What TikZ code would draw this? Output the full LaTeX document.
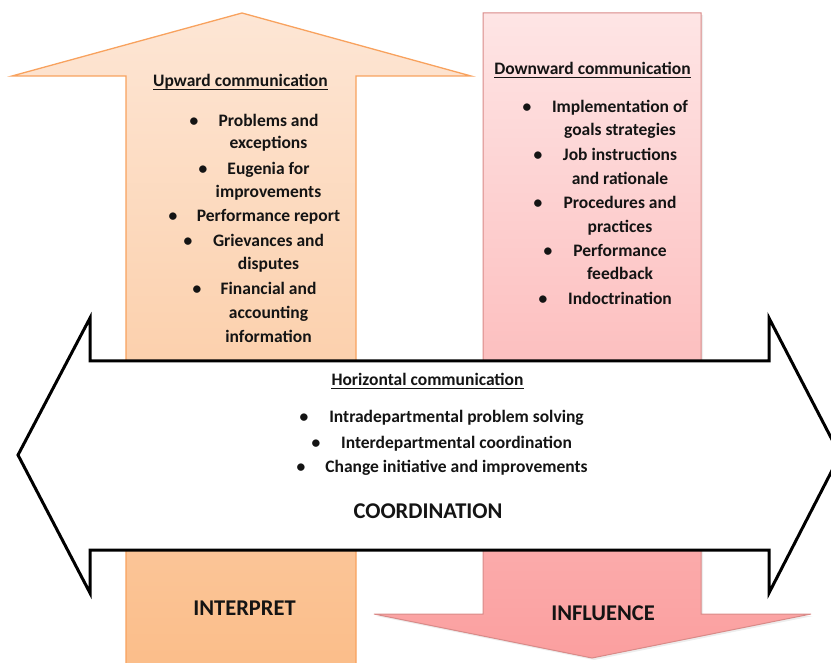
\documentclass[tikz,border=0pt]{standalone}
\usepackage{fontspec}
\setmainfont{Carlito}
\definecolor{orTop}{HTML}{FDE6D5}
\definecolor{orBot}{HTML}{FBBC87}
\definecolor{orLine}{HTML}{F8A25E}
\definecolor{pkTop}{HTML}{FEE5E5}
\definecolor{pkBot}{HTML}{FB9F9F}
\definecolor{pkLine}{HTML}{D98A88}
\definecolor{ink}{HTML}{141414}
\tikzset{
  txt/.style={font=\fontsize{17.5}{20}\selectfont\bfseries, text=ink, inner sep=0pt, anchor=base},
  big/.style={font=\fontsize{22.5}{26}\selectfont\bfseries, text=ink, inner sep=0pt, anchor=base},
  bul/.style={txt},
  uline/.style={line width=1.1pt, draw=ink},
  bigarrow/.style={line width=3pt, draw=black, fill=white, line join=miter}
}
\begin{document}
\begin{tikzpicture}[x=1pt,y=-1pt]
\useasboundingbox (0,0) rectangle (831,663);
\clip (0,0) rectangle (831,663);
% upward arrow
\path[draw=orLine, line width=1.3pt, top color=orTop, bottom color=orBot]
  (126,690) -- (126,76) -- (12,76) -- (242,13) -- (471,76) -- (356,76) -- (356,690) -- cycle;
% downward arrow shadow and body
\fill[black!7] (485,15) -- (703,15) -- (703,616) -- (813,616) -- (594,660) -- (376,616) -- (485,616) -- cycle;
\path[draw=pkLine, line width=1pt, top color=pkTop, bottom color=pkBot]
  (483,13) -- (701,13) -- (701,614) -- (811,614) -- (592,658) -- (374,614) -- (483,614) -- cycle;
% horizontal double arrow
\path[bigarrow] (18,455) -- (90,318) -- (90,361) -- (769,361) -- (769,318) -- (840,455)
  -- (769,593) -- (769,550) -- (90,550) -- (90,593) -- cycle;

% headers
\node[txt] (uh) at (240.5,87) {Upward communication};
\draw[uline] ([yshift=-2.2pt]uh.base west) -- ([yshift=-2.2pt]uh.base east);
\node[txt] (dh) at (592.5,75) {Downward communication};
\draw[uline] ([yshift=-2.2pt]dh.base west) -- ([yshift=-2.2pt]dh.base east);
\node[txt] (hh) at (427.5,386) {Horizontal communication};
\draw[uline] ([yshift=-2.2pt]hh.base west) -- ([yshift=-2.2pt]hh.base east);

% upward items
\node[txt] (u1) at (268.5,127) {Problems and};
\node[txt] (u2) at (268.5,149) {exceptions};
\node[txt] (u3) at (268.5,175) {Eugenia for};
\node[txt] (u4) at (268.5,198) {improvements};
\node[txt] (u5) at (268.5,222) {Performance report};
\node[txt] (u6) at (268.5,247) {Grievances and};
\node[txt] (u7) at (268.5,270) {disputes};
\node[txt] (u8) at (268.5,295) {Financial and};
\node[txt] (u9) at (268.5,319) {accounting};
\node[txt] (u10) at (268.5,343) {information};
\node[bul] (ub1) at (194,127) {•};
\node[bul] (ub2) at (203,175) {•};
\node[bul] (ub3) at (173,222) {•};
\node[bul] (ub4) at (188,247) {•};
\node[bul] (ub5) at (197,295) {•};

% downward items
\node[txt] (d1) at (620,113) {Implementation of};
\node[txt] (d2) at (620,136) {goals strategies};
\node[txt] (d3) at (620,161) {Job instructions};
\node[txt] (d4) at (620,185) {and rationale};
\node[txt] (d5) at (620,209) {Procedures and};
\node[txt] (d6) at (620,233) {practices};
\node[txt] (d7) at (620,257) {Performance};
\node[txt] (d8) at (620,280) {feedback};
\node[txt] (d9) at (620,305) {Indoctrination};
\node[bul] (db1) at (527,113) {•};
\node[bul] (db2) at (538,161) {•};
\node[bul] (db3) at (538,209) {•};
\node[bul] (db4) at (548,257) {•};
\node[bul] (db5) at (543,305) {•};

% horizontal items
\node[txt] (h1) at (456.5,423) {Intradepartmental problem solving};
\node[txt] (h2) at (456.5,448) {Interdepartmental coordination};
\node[txt] (h3) at (456.5,472) {Change initiative and improvements};
\node[bul] (hb1) at (304,423) {•};
\node[bul] (hb2) at (316,448) {•};
\node[bul] (hb3) at (301,472) {•};

% big labels
\node[big] (coord) at (428,518) {COORDINATION};
\node[big] (interp) at (244.5,615) {INTERPRET};
\node[big] (infl) at (603,620) {INFLUENCE};
\end{tikzpicture}
\end{document}
